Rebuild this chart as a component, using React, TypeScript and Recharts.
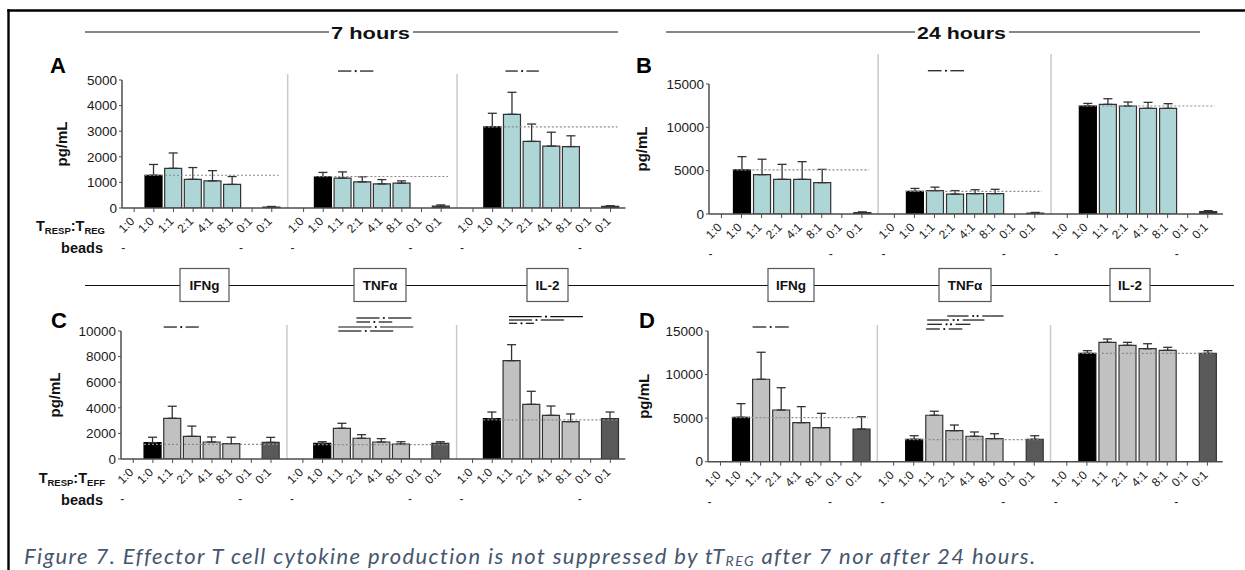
import React from "react";
import {
  BarChart,
  Bar,
  XAxis,
  YAxis,
  ErrorBar,
  Cell,
  ReferenceLine,
  ReferenceDot,
  Label,
} from "recharts";

// x categories inside one cytokine block (T_RESP:T_x ratio) and bead row
const RATIOS = ["1:0", "1:0", "1:1", "2:1", "4:1", "8:1", "0:1", "0:1"];
const BEADS = ["-", "", "", "", "", "", "-", ""];
const CYTOKINES = ["IFNg", "TNFα", "IL-2"];

// A: 7 hours, T_RESP:T_REG (mean, SD)
const A_IFNG = [0, 1280, 1550, 1120, 1060, 920, 0, 40];
const A_IFNG_SD = [0, 420, 600, 460, 400, 310, 0, 20];
const A_TNF = [0, 1220, 1170, 1020, 940, 970, 0, 70];
const A_TNF_SD = [0, 170, 240, 200, 170, 90, 0, 50];
const A_IL2 = [0, 3170, 3660, 2600, 2420, 2400, 0, 60];
const A_IL2_SD = [0, 530, 860, 680, 540, 420, 0, 30];
const A_CTRL = [1280, 1230, 3170];

// B: 24 hours, T_RESP:T_REG
const B_IFNG = [0, 5080, 4540, 4000, 4000, 3620, 0, 150];
const B_IFNG_SD = [0, 1540, 1780, 1730, 2040, 1530, 0, 100];
const B_TNF = [0, 2600, 2700, 2300, 2350, 2350, 0, 100];
const B_TNF_SD = [0, 350, 400, 400, 450, 500, 0, 80];
const B_IL2 = [0, 12460, 12650, 12460, 12190, 12190, 0, 265];
const B_IL2_SD = [0, 300, 650, 460, 690, 540, 0, 120];
const B_CTRL = [5080, 2600, 12460];

// C: 7 hours, T_RESP:T_EFF
const C_IFNG = [0, 1280, 3180, 1770, 1330, 1200, 0, 1300];
const C_IFNG_SD = [0, 420, 940, 800, 390, 500, 0, 390];
const C_TNF = [0, 1220, 2400, 1620, 1330, 1170, 0, 1220];
const C_TNF_SD = [0, 130, 390, 280, 260, 180, 0, 130];
const C_IL2 = [0, 3150, 7680, 4270, 3410, 2920, 0, 3150];
const C_IL2_SD = [0, 520, 1250, 1020, 730, 600, 0, 520];
const C_CTRL = [1150, 1120, 3050];

// D: 24 hours, T_RESP:T_EFF
const D_IFNG = [0, 5100, 9460, 5930, 4480, 3900, 0, 3750];
const D_IFNG_SD = [0, 1560, 3100, 2560, 1840, 1650, 0, 1410];
const D_TNF = [0, 2570, 5330, 3560, 2920, 2640, 0, 2570];
const D_TNF_SD = [0, 410, 460, 650, 490, 570, 0, 410];
const D_IL2 = [0, 12440, 13700, 13360, 12970, 12780, 0, 12440];
const D_IL2_SD = [0, 300, 380, 340, 570, 350, 0, 300];
const D_CTRL = [5050, 2530, 12440];

// significance bars: block, from/to (category units), height (pg/mL), number of stars
type Sig = { g: number; from: number; to: number; y: number; n: number };
const A_SIGS: Sig[] = [
  { g: 1, from: 1.75, to: 3.55, y: 5350, n: 1 },
  { g: 2, from: 1.65, to: 3.35, y: 5350, n: 1 },
];
const B_SIGS: Sig[] = [{ g: 1, from: 1.67, to: 3.47, y: 16530, n: 1 }];
const C_SIGS: Sig[] = [
  { g: 0, from: 1.55, to: 3.33, y: 10310, n: 1 },
  { g: 1, from: 2.72, to: 5.51, y: 11016, n: 1 },
  { g: 1, from: 2.72, to: 4.54, y: 10703, n: 1 },
  { g: 1, from: 1.8, to: 5.61, y: 10312, n: 1 },
  { g: 1, from: 1.8, to: 4.59, y: 10000, n: 1 },
  { g: 2, from: 1.85, to: 5.61, y: 11117, n: 1 },
  { g: 2, from: 1.85, to: 4.64, y: 10859, n: 1 },
  { g: 2, from: 1.85, to: 3.12, y: 10602, n: 1 },
];
const D_SIGS: Sig[] = [
  { g: 0, from: 1.6, to: 3.4, y: 15460, n: 1 },
  { g: 1, from: 2.67, to: 5.47, y: 16720, n: 2 },
  { g: 1, from: 1.67, to: 4.52, y: 16260, n: 2 },
  { g: 1, from: 1.67, to: 3.82, y: 15770, n: 2 },
  { g: 1, from: 1.62, to: 3.42, y: 15230, n: 1 },
];

const GROUP_STEP = 8.62;
const X_MIN = -0.62;
const X_MAX = 25.0;

const AXIS = "#4d4d4d";
const FONT = "Arial, 'Liberation Sans', Helvetica, sans-serif";
const TEAL = "#afd6d6";
const GREY = "#c1c1c1";
const DARK = "#595959";

type Row = {
  pos: number;
  label: string;
  bead: string;
  idx: number;
  value: number;
  err: [number, number];
};

function buildRows(values: number[][], sds: number[][]): Row[] {
  const rows: Row[] = [];
  values.forEach((vals, g) => {
    vals.forEach((v, i) => {
      rows.push({
        pos: g * GROUP_STEP + i,
        label: RATIOS[i],
        bead: BEADS[i],
        idx: i,
        value: v,
        err: [0, sds[g][i]],
      });
    });
  });
  return rows;
}

interface PanelProps {
  left: number;
  top: number;
  width: number;
  height: number;
  marginTop: number;
  yMax: number;
  yTicks: number[];
  values: number[][];
  sds: number[][];
  ctrl: number[];
  sigs: Sig[];
  sepTop: number;
  ratioFill: string;
  aloneFill: string;
  labelOffset: number;
}

function Panel(p: PanelProps) {
  const rows = buildRows(p.values, p.sds);
  const seps = [0, 1].map((g) => g * GROUP_STEP + 7 + (GROUP_STEP - 7) / 2);

  const renderTick = (props: any) => {
    const { x, y, payload } = props;
    const row = rows.find((r) => Math.abs(r.pos - payload.value) < 1e-6);
    if (!row) return <g />;
    const ax = x + 1;
    const ay = y + 8;
    return (
      <g>
        <text
          x={ax}
          y={ay}
          transform={`rotate(-45 ${ax} ${ay})`}
          textAnchor="end"
          fontSize={12}
          fontFamily={FONT}
          fill="#222"
        >
          {row.label}
        </text>
        {row.bead && (
          <text x={x - 11} y={y + 38} textAnchor="middle" fontSize={12} fontFamily={FONT} fill="#222">
            {row.bead}
          </text>
        )}
      </g>
    );
  };

  const fillFor = (idx: number) =>
    idx === 1 ? "#000" : idx === 7 ? p.aloneFill : p.ratioFill;

  return (
    <div style={{ position: "absolute", left: p.left, top: p.top }}>
      <BarChart
        width={p.width}
        height={p.height}
        data={rows}
        margin={{ top: p.marginTop, right: 5, bottom: 2, left: 0 }}
      >
        <XAxis
          type="number"
          dataKey="pos"
          domain={[X_MIN, X_MAX]}
          ticks={rows.map((r) => r.pos)}
          interval={0}
          allowDataOverflow
          height={50}
          tickSize={4}
          tickMargin={2}
          axisLine={{ stroke: AXIS, strokeWidth: 1.5 }}
          tickLine={{ stroke: AXIS }}
          tick={renderTick}
        />
        <YAxis
          type="number"
          domain={[0, p.yMax]}
          ticks={p.yTicks}
          allowDataOverflow
          width={80}
          tickSize={3}
          tickMargin={2}
          axisLine={{ stroke: AXIS, strokeWidth: 1.5 }}
          tickLine={{ stroke: AXIS }}
          tick={{ fontSize: 13.5, fill: "#1a1a1a", fontFamily: FONT }}
        >
          <Label
            value="pg/mL"
            angle={-90}
            position="insideLeft"
            offset={p.labelOffset}
            style={{ textAnchor: "middle", fontWeight: 700, fontSize: 15, fill: "#111", fontFamily: FONT }}
          />
        </YAxis>
        {seps.map((s, k) => (
          <ReferenceLine
            key={`sep${k}`}
            segment={[
              { x: s, y: 0 },
              { x: s, y: p.sepTop },
            ]}
            stroke="#c9c9c9"
            strokeWidth={1.5}
            ifOverflow="visible"
          />
        ))}
        <Bar dataKey="value" barSize={17} isAnimationActive={false}>
          {rows.map((r, k) => (
            <Cell
              key={k}
              fill={fillFor(r.idx)}
              stroke={r.idx === 1 ? "#000" : "#333"}
              strokeWidth={1.2}
            />
          ))}
          <ErrorBar
            dataKey="err"
            direction="y"
            width={4.5}
            stroke="#333"
            strokeWidth={1.3}
          />
        </Bar>
        {p.ctrl.map((c, g) => (
          <ReferenceLine
            key={`ctrl${g}`}
            segment={[
              { x: g * GROUP_STEP + 0.55, y: c },
              { x: g * GROUP_STEP + 7.35, y: c },
            ]}
            stroke="#8a8a8a"
            strokeWidth={1.2}
            strokeDasharray="2 2"
            ifOverflow="visible"
          />
        ))}
        {p.sigs.flatMap((s, k) => {
          const x1 = s.g * GROUP_STEP + s.from;
          const x2 = s.g * GROUP_STEP + s.to;
          const mid = (x1 + x2) / 2;
          const gap = s.n === 1 ? 0.22 : 0.34;
          const dots = s.n === 1 ? [mid] : [mid - 0.11, mid + 0.11];
          return [
            <ReferenceLine
              key={`sa${k}`}
              segment={[
                { x: x1, y: s.y },
                { x: mid - gap, y: s.y },
              ]}
              stroke="#111"
              strokeWidth={1.2}
              ifOverflow="visible"
            />,
            <ReferenceLine
              key={`sb${k}`}
              segment={[
                { x: mid + gap, y: s.y },
                { x: x2, y: s.y },
              ]}
              stroke="#111"
              strokeWidth={1.2}
              ifOverflow="visible"
            />,
            ...dots.map((d, j) => (
              <ReferenceDot
                key={`sd${k}-${j}`}
                x={d}
                y={s.y}
                r={1.1}
                fill="#111"
                stroke="none"
                ifOverflow="visible"
              />
            )),
          ];
        })}
      </BarChart>
    </div>
  );
}

function RatioLabel({ y, sub }: { y: number; sub: string }) {
  return (
    <text x={105} y={y} textAnchor="end" fontWeight={700} fontSize={14.5} fill="#111">
      T
      <tspan fontSize={9.5} dy={3}>
        RESP
      </tspan>
      <tspan dy={-3}>:T</tspan>
      <tspan fontSize={9.5} dy={3}>
        {sub}
      </tspan>
    </text>
  );
}

const HEADER_BOXES = [
  [180, 229],
  [354, 406],
  [527, 568],
  [768, 814],
  [939, 991],
  [1110, 1150],
];

function Overlay() {
  return (
    <svg width={1245} height={570} style={{ position: "absolute", left: 0, top: 0 }} fontFamily={FONT}>
      {/* frame */}
      <line x1={8.5} y1={9.3} x2={8.5} y2={570} stroke="#000" strokeWidth={2.4} />
      <line x1={7.3} y1={10.5} x2={1245} y2={10.5} stroke="#000" strokeWidth={2.4} />

      {/* time headers */}
      <line x1={85} y1={32} x2={329} y2={32} stroke="#111" strokeWidth={1.2} />
      <line x1={413} y1={32} x2={618} y2={32} stroke="#111" strokeWidth={1.2} />
      <text x={331} y={38.5} fontWeight={700} fontSize={17} textLength={79} lengthAdjust="spacingAndGlyphs" fill="#111">
        7 hours
      </text>
      <line x1={666} y1={32} x2={915} y2={32} stroke="#111" strokeWidth={1.2} />
      <line x1={1009} y1={32} x2={1200} y2={32} stroke="#111" strokeWidth={1.2} />
      <text x={917} y={38.5} fontWeight={700} fontSize={17} textLength={89} lengthAdjust="spacingAndGlyphs" fill="#111">
        24 hours
      </text>

      {/* cytokine row */}
      <line x1={85} y1={285.5} x2={1234} y2={285.5} stroke="#111" strokeWidth={1.2} />
      {HEADER_BOXES.map(([a, b], k) => (
        <g key={k}>
          <rect x={a} y={268.5} width={b - a} height={33} fill="#fff" stroke="#555" strokeWidth={1.2} />
          <text x={(a + b) / 2} y={290} textAnchor="middle" fontWeight={700} fontSize={13.5} fill="#111">
            {CYTOKINES[k % 3]}
          </text>
        </g>
      ))}

      {/* panel letters */}
      <text x={50} y={73} fontWeight={700} fontSize={22} fill="#000">A</text>
      <text x={636} y={73} fontWeight={700} fontSize={22} fill="#000">B</text>
      <text x={51} y={328} fontWeight={700} fontSize={22} fill="#000">C</text>
      <text x={639} y={328} fontWeight={700} fontSize={22} fill="#000">D</text>

      {/* row labels */}
      <RatioLabel y={231} sub="REG" />
      <text x={103} y={253} textAnchor="end" fontWeight={700} fontSize={14.5} fill="#111">beads</text>
      <RatioLabel y={483} sub="EFF" />
      <text x={103} y={505} textAnchor="end" fontWeight={700} fontSize={14.5} fill="#111">beads</text>

      {/* caption */}
      <text
        x={24}
        y={564}
        fontFamily="Lato, 'Open Sans', sans-serif"
        fontStyle="italic"
        fontSize={22}
        letterSpacing={1.4}
        fill="#46566f"
      >
        Figure 7. Effector T cell cytokine production is not suppressed by tT
        <tspan fontSize={14} dy={2}>REG</tspan>
        <tspan dy={-2}> after 7 nor after 24 hours.</tspan>
      </text>
    </svg>
  );
}

export default function App() {
  return (
    <div
      style={{
        position: "absolute",
        left: 0,
        top: 0,
        width: 1245,
        height: 570,
        background: "#fff",
        overflow: "hidden",
        fontFamily: FONT,
      }}
    >
      <Overlay />
      <Panel
        left={41.5}
        top={50}
        width={588.5}
        height={210}
        marginTop={30}
        yMax={5000}
        yTicks={[0, 1000, 2000, 3000, 4000, 5000]}
        values={[A_IFNG, A_TNF, A_IL2]}
        sds={[A_IFNG_SD, A_TNF_SD, A_IL2_SD]}
        ctrl={A_CTRL}
        sigs={A_SIGS}
        sepTop={5230}
        ratioFill={TEAL}
        aloneFill="#333"
        labelOffset={19.5}
      />
      <Panel
        left={629}
        top={44}
        width={599}
        height={222}
        marginTop={40}
        yMax={15000}
        yTicks={[0, 5000, 10000, 15000]}
        values={[B_IFNG, B_TNF, B_IL2]}
        sds={[B_IFNG_SD, B_TNF_SD, B_IL2_SD]}
        ctrl={B_CTRL}
        sigs={B_SIGS}
        sepTop={18460}
        ratioFill={TEAL}
        aloneFill="#333"
        labelOffset={13}
      />
      <Panel
        left={40.7}
        top={305}
        width={589.3}
        height={206}
        marginTop={26}
        yMax={10000}
        yTicks={[0, 2000, 4000, 6000, 8000, 10000]}
        values={[C_IFNG, C_TNF, C_IL2]}
        sds={[C_IFNG_SD, C_TNF_SD, C_IL2_SD]}
        ctrl={C_CTRL}
        sigs={C_SIGS}
        sepTop={10470}
        ratioFill={GREY}
        aloneFill={DARK}
        labelOffset={13.3}
      />
      <Panel
        left={628.3}
        top={305}
        width={599.7}
        height={208.7}
        marginTop={26}
        yMax={15000}
        yTicks={[0, 5000, 10000, 15000]}
        values={[D_IFNG, D_TNF, D_IL2]}
        sds={[D_IFNG_SD, D_TNF_SD, D_IL2_SD]}
        ctrl={D_CTRL}
        sigs={D_SIGS}
        sepTop={15690}
        ratioFill={GREY}
        aloneFill={DARK}
        labelOffset={15.7}
      />
    </div>
  );
}
